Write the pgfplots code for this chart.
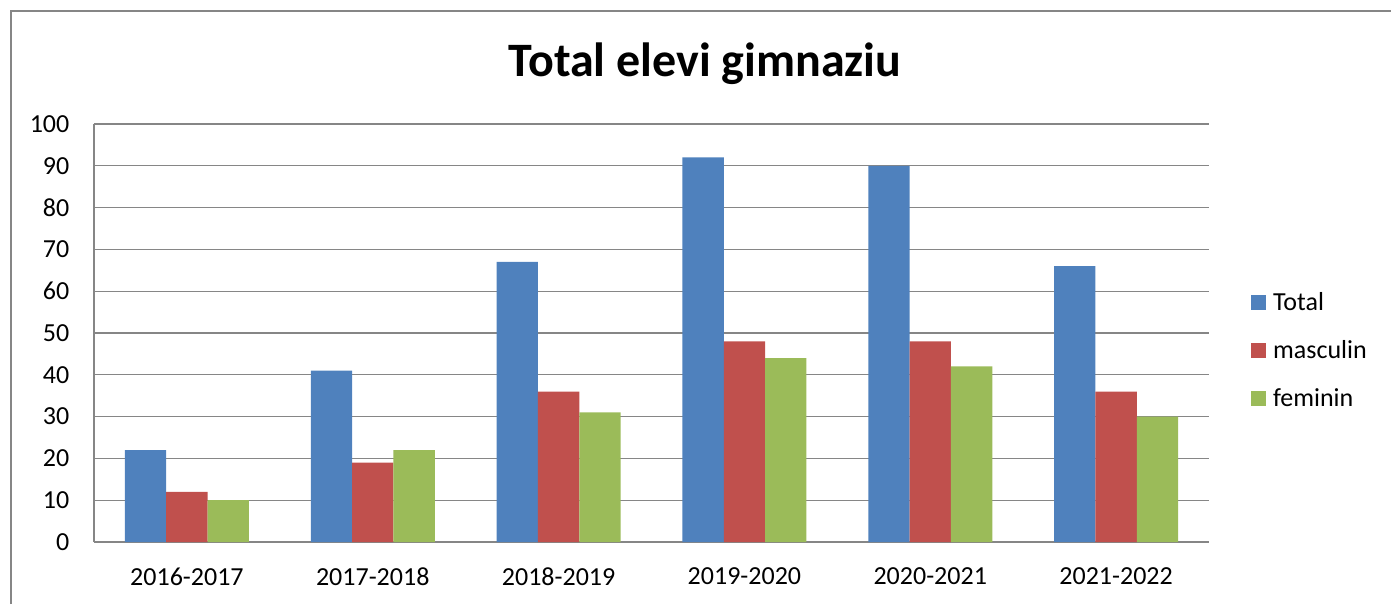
\documentclass[border=0pt]{standalone}
\usepackage{pgfplots}
\pgfplotsset{compat=1.18}
\usepackage{fontspec}
\setmainfont{Carlito}
\definecolor{cblue}{HTML}{4F81BD}
\definecolor{cred}{HTML}{C0504D}
\definecolor{cgreen}{HTML}{9BBB59}
\definecolor{cgrid}{HTML}{868686}
\begin{document}
\begin{tikzpicture}
\useasboundingbox (0pt,0pt) rectangle (1043.25pt,453pt);
\draw[cgrid, line width=1.2pt] (8.25pt,0pt) -- (8.25pt,444.75pt) -- (1043.25pt,444.75pt);
\node[font=\fontsize{36}{42}\selectfont\bfseries] at (528.75pt,405pt) {Total elevi gimnaziu};
\begin{axis}[
  at={(70.5pt,46.5pt)}, anchor=south west,
  width=836.25pt, height=313.5pt, scale only axis,
  ybar=0pt, bar width=31pt,
  xmin=-0.5, xmax=5.5, ymin=0, ymax=100,
  ytick={0,10,...,100},
  xtick={0,...,5},
  xticklabels={2016-2017,2017-2018,2018-2019,2019-2020,2020-2021,2021-2022},
  major tick length=0pt,
  ymajorgrids, grid style={cgrid, line width=0.9pt},
  axis line style={cgrid, line width=0.9pt},
  axis x line*=bottom, axis y line*=left,
  ticklabel style={font=\fontsize{19.5}{23}\selectfont},
  /pgf/number format/assume math mode=true,
  yticklabel style={xshift=-15pt},
  xticklabel style={yshift=-16pt},
  legend style={at={(1.034,0.459)}, anchor=west, draw=none,
    font=\fontsize{19.5}{23}\selectfont, row sep=17pt,
    /tikz/every even column/.append style={column sep=0pt}},
  legend cell align=left,
  legend image code/.code={\fill[#1] (0pt,-5.6pt) rectangle (11.2pt,5.6pt);},
]
\addplot[fill=cblue, draw=none] coordinates {(0,22) (1,41) (2,67) (3,92) (4,90) (5,66)};
\addplot[fill=cred, draw=none] coordinates {(0,12) (1,19) (2,36) (3,48) (4,48) (5,36)};
\addplot[fill=cgreen, draw=none] coordinates {(0,10) (1,22) (2,31) (3,44) (4,42) (5,30)};
\legend{\,Total,\,masculin,\,feminin}
\end{axis}
\end{tikzpicture}
\end{document}
